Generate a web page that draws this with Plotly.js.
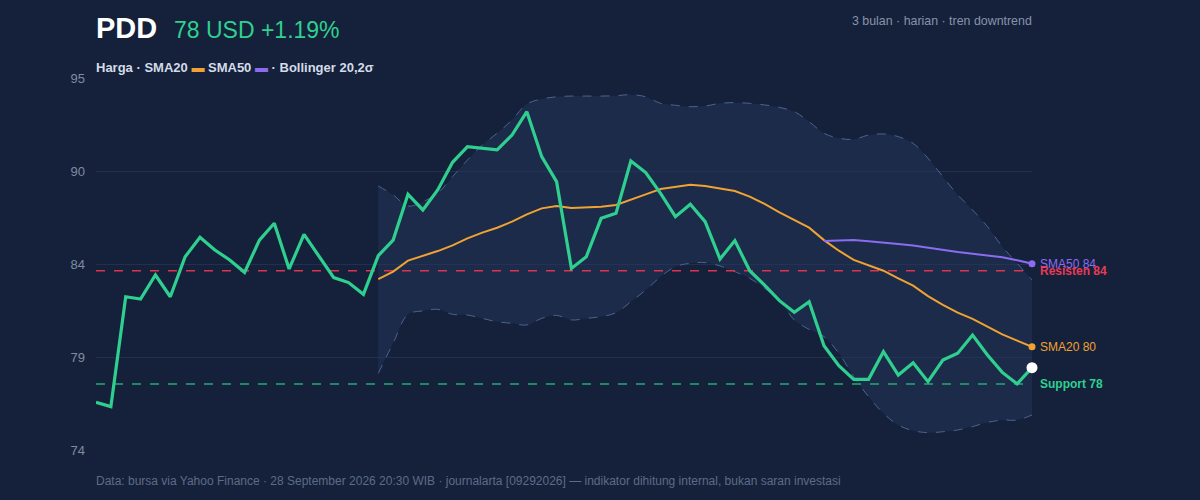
<!DOCTYPE html>
<html>
<head>
<meta charset="utf-8">
<script src="https://cdn.plot.ly/plotly-3.0.1.min.js"></script>
<style>
html,body{margin:0;padding:0;background:#15213a;}
#chart{width:1200px;height:500px;}
</style>
</head>
<body>
<div id="chart"></div>
<script>
// Daily closing prices (64 trading days)
const price = [76.69,76.45,82.65,82.52,83.88,82.65,84.91,86.01,85.29,84.73,
84.03,85.85,86.80,84.22,86.17,84.97,83.73,83.45,82.79,84.97,
85.85,88.43,87.55,88.68,90.24,91.12,91.03,90.94,91.78,93.10,
90.56,89.15,84.25,84.91,87.08,87.36,90.31,89.66,88.49,87.17,
87.87,86.89,84.78,85.82,84.12,83.31,82.43,81.77,82.37,79.89,
78.76,77.99,77.99,79.55,78.23,78.93,77.86,79.08,79.46,80.49,
79.36,78.38,77.73,78.65];
// SMA20 from index 19
const sma20 = [83.65,84.07,84.69,84.95,85.23,85.55,85.95,86.27,86.55,86.89,
87.30,87.64,87.77,87.66,87.68,87.73,87.83,88.11,88.43,88.73,
88.86,88.97,88.90,88.77,88.62,88.30,87.89,87.42,86.98,86.55,
85.85,85.25,84.73,84.41,84.12,83.69,83.28,82.69,82.19,81.75,
81.40,80.96,80.53,80.17,79.83];
// SMA50 from index 49
const sma50 = [85.80,85.84,85.85,85.78,85.72,85.63,85.55,85.42,85.29,85.18,
85.08,84.99,84.88,84.71,84.52];
// Bollinger 20,2 from index 19
const bbUpper = [88.90,88.40,87.77,88.02,88.49,89.43,90.37,91.22,91.88,92.63,
93.53,93.81,93.94,93.98,93.98,93.98,94.00,94.06,93.94,93.57,
93.46,93.38,93.42,93.57,93.61,93.57,93.48,93.34,93.10,92.53,
91.88,91.60,91.54,91.78,91.84,91.69,91.31,90.47,89.43,88.40,
87.55,86.61,85.48,84.54,83.60];
const bbLower = [78.33,80.03,81.66,81.85,81.94,81.66,81.62,81.43,81.24,81.15,
81.06,81.43,81.60,81.34,81.43,81.53,81.75,82.37,83.03,83.78,
84.35,84.54,84.58,84.39,84.07,83.69,83.13,82.47,81.34,80.81,
80.40,79.46,78.14,77.01,76.07,75.41,75.09,74.98,75.03,75.13,
75.32,75.56,75.69,75.69,75.98];
const resistance = 84.12;
const support = 77.73;
const tickVals = [74, 79.25, 84.5, 89.75, 95];
const tickText = ["74", "79", "84", "90", "95"];
const labels = {sma50: "SMA50 84", resist: "Resisten 84", sma20: "SMA20 80", support: "Support 78"};

const idx = price.map((_, i) => i);
const idx20 = sma20.map((_, i) => i + 19);
const idx50 = sma50.map((_, i) => i + 49);
const last = price.length - 1;

const C = {bg:'#15213a', green:'#2fd08f', orange:'#f0a232', purple:'#8b6cf0', red:'#dc3550',
  band:'#4b6391', grid:'#213050', tick:'#7f8ba3', text:'#d3dbe8'};

const traces = [
  {x: idx20, y: bbLower, mode:'lines', line:{color:C.band, width:1, dash:'dash', shape:'spline'}, hoverinfo:'skip'},
  {x: idx20, y: bbUpper, mode:'lines', line:{color:C.band, width:1, dash:'dash', shape:'spline'}, fill:'tonexty', fillcolor:'rgba(38,58,98,0.42)', hoverinfo:'skip'},
  {x: [0, last], y: [resistance, resistance], mode:'lines', line:{color:C.red, width:1.6, dash:'dash'}, hoverinfo:'skip'},
  {x: [0, last], y: [support, support], mode:'lines', line:{color:'#24a878', width:1.6, dash:'dash'}, hoverinfo:'skip'},
  {x: idx20, y: sma20, mode:'lines', line:{color:C.orange, width:2}, hoverinfo:'skip'},
  {x: idx50, y: sma50, mode:'lines', line:{color:C.purple, width:2}, hoverinfo:'skip'},
  {x: idx, y: price, mode:'lines', line:{color:C.green, width:3.2}, hoverinfo:'skip', cliponaxis:false},
  {x: [last], y: [sma20[sma20.length-1]], mode:'markers', marker:{color:C.orange, size:7}, hoverinfo:'skip', cliponaxis:false},
  {x: [last], y: [sma50[sma50.length-1]], mode:'markers', marker:{color:C.purple, size:7}, hoverinfo:'skip', cliponaxis:false},
  {x: [last], y: [price[last]], mode:'markers', marker:{color:'#ffffff', size:11}, hoverinfo:'skip', cliponaxis:false}
];

const F = 'Liberation Sans, Arial, sans-serif';
const annotations = [
  {xref:'paper', yref:'paper', x:-0.002, y:1.134, xanchor:'left', yanchor:'middle', showarrow:false,
   text:'<b>PDD</b>', font:{family:F, size:29, color:'#ffffff'}},
  {xref:'paper', yref:'paper', x:0.0815, y:1.130, xanchor:'left', yanchor:'middle', showarrow:false,
   text:'78 USD +1.19%', font:{family:F, size:23, color:C.green}},
  {xref:'paper', yref:'paper', x:1.002, y:1.153, xanchor:'right', yanchor:'middle', showarrow:false,
   text:'3 bulan · harian · tren downtrend', font:{family:F, size:12.4, color:'#8593ab'}},
  {xref:'paper', yref:'paper', x:-0.002, y:1.028, xanchor:'left', yanchor:'middle', showarrow:false,
   text:'<b>Harga · SMA20 <span style="color:'+C.orange+'">▬</span> SMA50 <span style="color:'+C.purple+'">▬</span> · Bollinger 20,2σ</b>',
   font:{family:F, size:13, color:C.text}},
  {xref:'paper', yref:'paper', x:-0.002, y:-0.083, xanchor:'left', yanchor:'middle', showarrow:false,
   text:'Data: bursa via Yahoo Finance · 28 September 2026 20:30 WIB · journalarta [09292026] — indikator dihitung internal, bukan saran investasi',
   font:{family:F, size:12, color:'#5d6b88'}},
  {xref:'x', yref:'y', x:last, y:sma50[sma50.length-1], xshift:6, xanchor:'left', yanchor:'middle', showarrow:false,
   text:labels.sma50, font:{family:F, size:12, color:C.purple}},
  {xref:'x', yref:'y', x:last, y:resistance, xshift:6, xanchor:'left', yanchor:'middle', showarrow:false,
   text:'<b>'+labels.resist+'</b>', font:{family:F, size:12, color:'#e83a56'}},
  {xref:'x', yref:'y', x:last, y:sma20[sma20.length-1], xshift:6, xanchor:'left', yanchor:'middle', showarrow:false,
   text:labels.sma20, font:{family:F, size:12, color:C.orange}},
  {xref:'x', yref:'y', x:last, y:support, xshift:6, xanchor:'left', yanchor:'middle', showarrow:false,
   text:'<b>'+labels.support+'</b>', font:{family:F, size:12, color:C.green}}
];

const layout = {
  width:1200, height:500,
  paper_bgcolor:C.bg, plot_bgcolor:C.bg,
  margin:{l:96, r:168, t:78, b:50},
  showlegend:false,
  font:{family:F, color:C.tick},
  xaxis:{range:[0, last], showgrid:false, zeroline:false, showticklabels:false, showline:false, fixedrange:true},
  yaxis:{range:[74, 95], tickvals:tickVals, ticktext:tickText, showgrid:true, gridcolor:C.grid, gridwidth:1,
    zeroline:false, showline:false, ticks:'', ticklabelstandoff:10, tickfont:{family:F, size:13, color:C.tick}, fixedrange:true},
  annotations:annotations
};

Plotly.newPlot('chart', traces, layout, {displayModeBar:false, staticPlot:true});
</script>
</body>
</html>
